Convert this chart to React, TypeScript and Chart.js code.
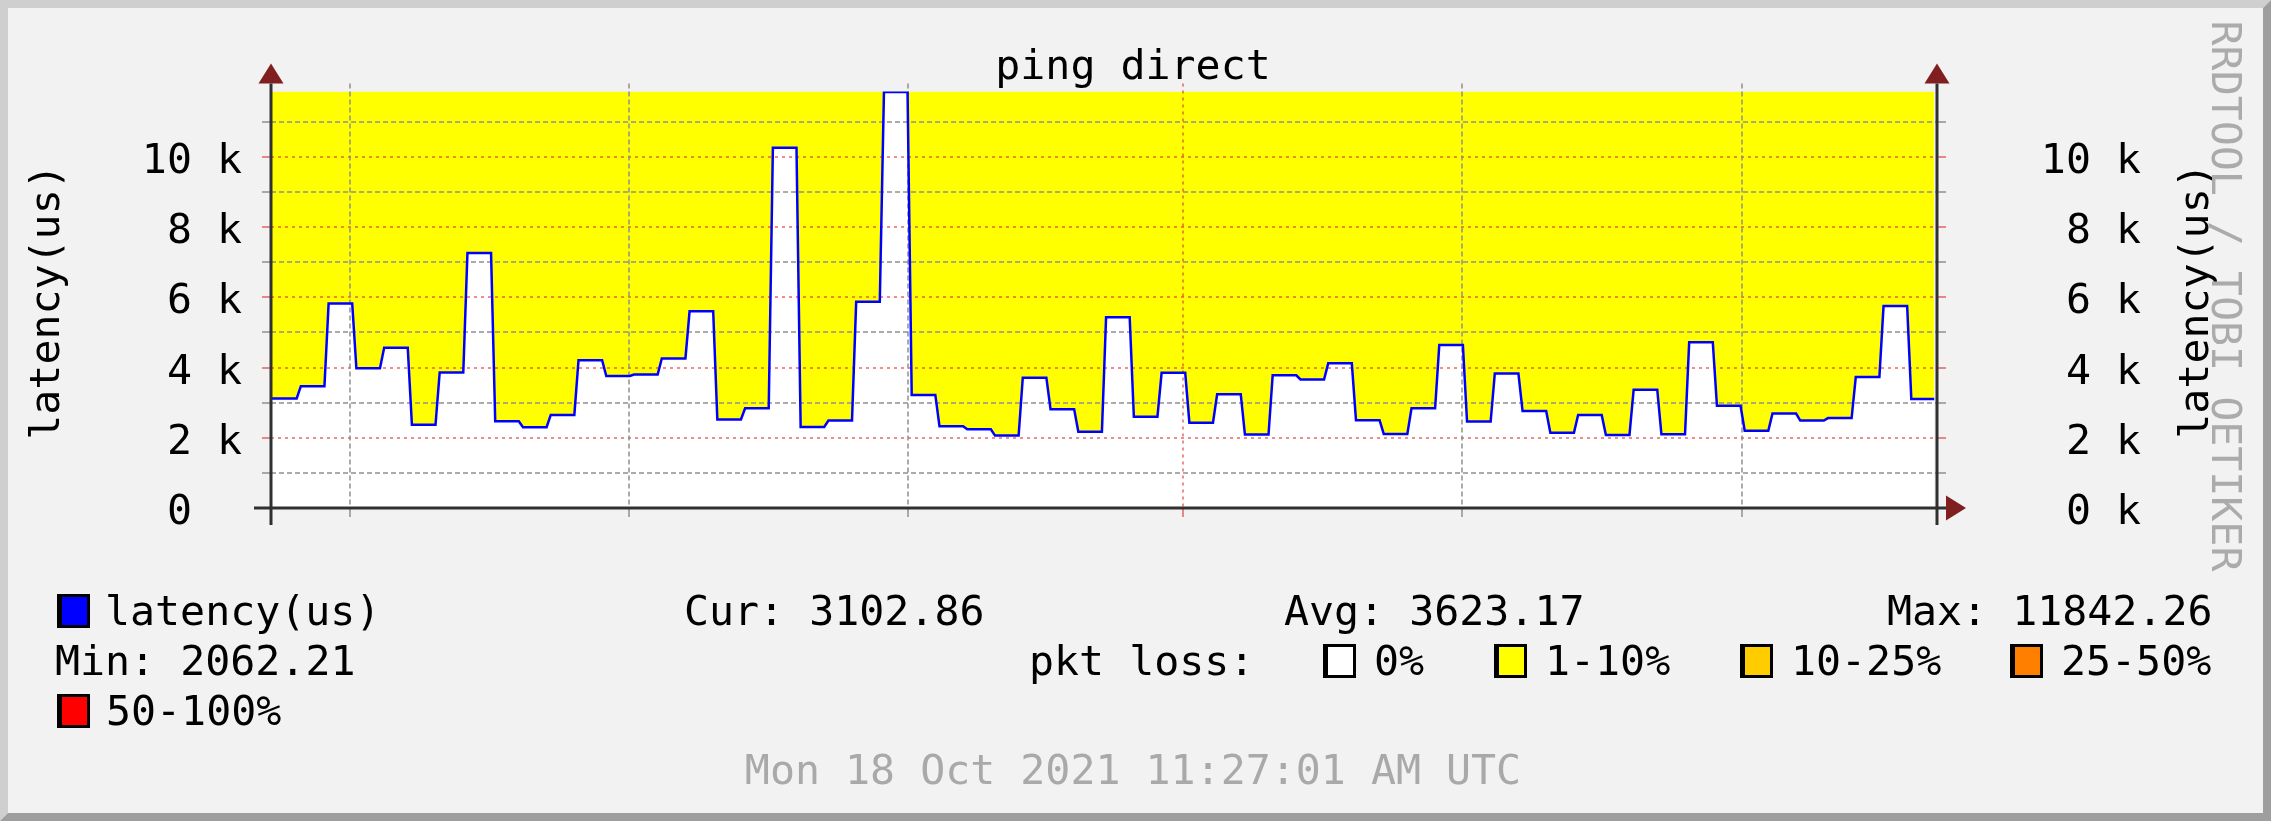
import React, { useEffect, useRef } from "react";
import { Chart, registerables } from "chart.js";

Chart.register(...registerables);

const W = 2271;
const H = 821;

// ---- data (one value per consolidation step) ----
const latencyUs: number[] = [
  3120, 3470, 5820, 3980, 4560, 2370, 3860, 7260, 2470, 2300,
  2650, 4210, 3760, 3800, 4260, 5600, 2520, 2840, 10260, 2310,
  2490, 5870, 11842.26, 3220, 2330, 2240, 2062.21, 3710, 2810, 2170,
  5430, 2600, 3850, 2430, 3240, 2090, 3780, 3660, 4120, 2500,
  2110, 2840, 4640, 2460, 3830, 2760, 2140, 2650, 2080, 3370,
  2100, 4720, 2910, 2200, 2690, 2490, 2560, 3730, 5750, 3102.86,
];
const stepCount = 60;
const yMax = 11860;
const yGridValues = [1000, 2000, 3000, 4000, 5000, 6000, 7000, 8000, 9000, 10000, 11000];
const yLabelValues = [0, 2000, 4000, 6000, 8000, 10000];
const xGridSteps = [2.85, 12.9, 22.93, 32.85, 42.9, 52.96];
const xMajorGridSteps = [32.85];

const titleText = "ping direct";
const yTitle = "latency(us)";
const watermark = "RRDTOOL / TOBI OETIKER";
const stampText = "Mon 18 Oct 2021 11:27:01 AM UTC";
const seriesName = "latency(us)";
const statLabels = ["Cur", "Avg", "Max", "Min"];
const statValues = [3102.86, 3623.17, 11842.26, 2062.21];
const lossLabels = ["0%", "1-10%", "10-25%", "25-50%", "50-100%"];
const lossColors = ["#FFFFFF", "#FFFF00", "#FFCC00", "#FF8000", "#FF0000"];

const FONT = '41.6px "DejaVu Sans Mono", monospace';
const GRID_GRAY = "rgba(143,143,143,0.75)";
const GRID_RED = "rgba(222,48,48,0.55)";
const AXIS = "#303030";
const ARROW = "#7F1F1F";

const EDGE = 0.075;
const buildPoints = () =>
  latencyUs.flatMap((v, i) => [
    { x: i === 0 ? 0 : i + EDGE, y: v },
    { x: i === latencyUs.length - 1 ? stepCount - 0.1 : i + 1 - EDGE, y: v },
  ]);

function drawBox(ctx: CanvasRenderingContext2D, x: number, baseline: number, color: string) {
  const top = baseline - 31;
  ctx.fillStyle = "#000000";
  ctx.fillRect(x, top, 33, 34);
  ctx.fillStyle = color;
  ctx.fillRect(x + 5, top + 3, 25, 28);
}

const rrdPlugin = {
  id: "rrd",
  beforeDraw(chart: any) {
    const ctx: CanvasRenderingContext2D = chart.ctx;
    ctx.save();
    ctx.fillStyle = "#F2F2F2";
    ctx.fillRect(0, 0, W, H);
    const b = 8;
    ctx.fillStyle = "#CFCFCF";
    ctx.beginPath();
    ctx.moveTo(0, 0);
    ctx.lineTo(W, 0);
    ctx.lineTo(W - b, b);
    ctx.lineTo(b, b);
    ctx.lineTo(b, H - b);
    ctx.lineTo(0, H);
    ctx.closePath();
    ctx.fill();
    ctx.fillStyle = "#9E9E9E";
    ctx.beginPath();
    ctx.moveTo(W, 0);
    ctx.lineTo(W, H);
    ctx.lineTo(0, H);
    ctx.lineTo(b, H - b);
    ctx.lineTo(W - b, H - b);
    ctx.lineTo(W - b, b);
    ctx.closePath();
    ctx.fill();
    ctx.restore();
  },
  afterDatasetDraw(chart: any, args: any) {
    if (args.index !== 1) return;
    const ctx: CanvasRenderingContext2D = chart.ctx;
    const xs = chart.scales.x;
    const ys = chart.scales.y;
    const L = chart.chartArea.left;
    const R = chart.chartArea.right;
    const T = chart.chartArea.top;
    const B = ys.getPixelForValue(0);
    ctx.save();
    ctx.lineWidth = 2;
    // horizontal grid
    for (const v of yGridValues) {
      const y = Math.round(ys.getPixelForValue(v));
      const major = v % 2000 === 0;
      ctx.strokeStyle = major ? GRID_RED : GRID_GRAY;
      ctx.setLineDash(major ? [3, 4] : [5, 3]);
      ctx.beginPath();
      ctx.moveTo(L, y);
      ctx.lineTo(R, y);
      ctx.stroke();
      ctx.setLineDash([]);
      ctx.beginPath();
      ctx.moveTo(L - 9, y);
      ctx.lineTo(L, y);
      ctx.moveTo(R, y);
      ctx.lineTo(R + 9, y);
      ctx.stroke();
    }
    // vertical grid
    for (const s of xGridSteps) {
      const x = Math.round(xs.getPixelForValue(s));
      const major = xMajorGridSteps.includes(s);
      ctx.strokeStyle = major ? GRID_RED : GRID_GRAY;
      ctx.setLineDash(major ? [3, 4] : [5, 3]);
      ctx.beginPath();
      ctx.moveTo(x, T - 8);
      ctx.lineTo(x, B);
      ctx.stroke();
      ctx.setLineDash([]);
      ctx.beginPath();
      ctx.moveTo(x, B);
      ctx.lineTo(x, B + 9);
      ctx.stroke();
    }
    ctx.restore();
  },
  afterDraw(chart: any) {
    const ctx: CanvasRenderingContext2D = chart.ctx;
    const ys = chart.scales.y;
    const L = chart.chartArea.left;
    const R = chart.chartArea.right;
    const T = chart.chartArea.top;
    const B = ys.getPixelForValue(0);
    ctx.save();
    // axes
    ctx.strokeStyle = AXIS;
    ctx.lineWidth = 3;
    ctx.beginPath();
    ctx.moveTo(L, T - 8);
    ctx.lineTo(L, B + 17);
    ctx.moveTo(R, T - 8);
    ctx.lineTo(R, B + 17);
    ctx.moveTo(L - 17, B);
    ctx.lineTo(R + 9, B);
    ctx.stroke();
    // arrows
    ctx.fillStyle = ARROW;
    for (const ax of [L, R]) {
      ctx.beginPath();
      ctx.moveTo(ax, T - 28);
      ctx.lineTo(ax + 12.5, T - 8);
      ctx.lineTo(ax - 12.5, T - 8);
      ctx.closePath();
      ctx.fill();
    }
    ctx.beginPath();
    ctx.moveTo(R + 29, B);
    ctx.lineTo(R + 9, B - 12.5);
    ctx.lineTo(R + 9, B + 12.5);
    ctx.closePath();
    ctx.fill();

    ctx.font = FONT;
    ctx.fillStyle = "#000000";
    ctx.textBaseline = "alphabetic";

    // title
    ctx.textAlign = "center";
    ctx.fillText(titleText, 1133, 79);

    // tick labels
    for (const v of yLabelValues) {
      const y = ys.getPixelForValue(v) + 16;
      ctx.textAlign = "right";
      ctx.fillText(v === 0 ? "0  " : `${v / 1000} k`, 242, y);
      ctx.fillText(`${v / 1000} k`, 2141, y);
    }

    // axis titles
    ctx.textAlign = "center";
    ctx.save();
    ctx.translate(59, 302);
    ctx.rotate(-Math.PI / 2);
    ctx.fillText(yTitle, 0, 0);
    ctx.restore();
    ctx.save();
    ctx.translate(2208, 301);
    ctx.rotate(-Math.PI / 2);
    ctx.fillText(yTitle, 0, 0);
    ctx.restore();

    // watermark
    ctx.save();
    ctx.fillStyle = "#ABABAB";
    ctx.translate(2212, 296);
    ctx.rotate(Math.PI / 2);
    ctx.fillText(watermark, 0, 0);
    ctx.restore();

    // legend
    ctx.textAlign = "left";
    const r1 = 625, r2 = 675, r3 = 725;
    drawBox(ctx, 57, r1, "#0000FF");
    ctx.fillStyle = "#000000";
    ctx.fillText(seriesName, 105, r1);
    ctx.fillText(`${statLabels[0]}: ${statValues[0].toFixed(2)}`, 684, r1);
    ctx.fillText(`${statLabels[1]}: ${statValues[1].toFixed(2)}`, 1284, r1);
    ctx.fillText(`${statLabels[2]}: ${statValues[2].toFixed(2)}`, 1887, r1);
    ctx.fillText(`${statLabels[3]}: ${statValues[3].toFixed(2)}`, 55, r2);
    ctx.fillText("pkt loss:", 1029, r2);
    const boxX = [1323, 1494, 1740, 2010];
    const textX = [1374, 1545, 1791, 2061];
    for (let i = 0; i < 4; i++) {
      drawBox(ctx, boxX[i], r2, lossColors[i]);
      ctx.fillStyle = "#000000";
      ctx.fillText(lossLabels[i], textX[i], r2);
    }
    drawBox(ctx, 57, r3, lossColors[4]);
    ctx.fillStyle = "#000000";
    ctx.fillText(lossLabels[4], 106, r3);

    // timestamp
    ctx.textAlign = "center";
    ctx.fillStyle = "#A9A9A9";
    ctx.fillText(stampText, 1133, 784);
    ctx.restore();
  },
};

export default function App() {
  const ref = useRef<HTMLCanvasElement | null>(null);
  useEffect(() => {
    const canvas = ref.current;
    if (!canvas) return;
    const chart = new Chart(canvas, {
      type: "line",
      data: {
        datasets: [
          {
            data: buildPoints(),
            fill: "origin",
            backgroundColor: "#FFFFFF",
            borderColor: "rgba(0,0,0,0)",
            borderWidth: 0,
            pointRadius: 0,
            order: 3,
          },
          {
            data: buildPoints(),
            fill: "end",
            backgroundColor: "#FFFF00",
            borderColor: "rgba(0,0,0,0)",
            borderWidth: 0,
            pointRadius: 0,
            order: 2,
          },
          {
            data: buildPoints(),
            fill: false,
            borderColor: "#0000FF",
            borderWidth: 2.5,
            pointRadius: 0,
            order: 1,
          },
        ],
      } as any,
      options: {
        animation: false,
        responsive: false,
        devicePixelRatio: 1,
        events: [],
        layout: { padding: { left: 271, right: W - 1937, top: 91.5, bottom: H - 508 } },
        elements: { line: { tension: 0 }, point: { radius: 0 } },
        scales: {
          x: { type: "linear", min: 0, max: stepCount, display: false },
          y: { type: "linear", min: 0, max: yMax, display: false },
        },
        plugins: {
          legend: { display: false },
          title: { display: false },
          tooltip: { enabled: false },
        },
      } as any,
      plugins: [rrdPlugin as any],
    });
    return () => chart.destroy();
  }, []);
  return (
    <div style={{ position: "fixed", left: 0, top: 0, width: W, height: H }}>
      <canvas ref={ref} width={W} height={H} style={{ display: "block", width: W, height: H }} />
    </div>
  );
}
